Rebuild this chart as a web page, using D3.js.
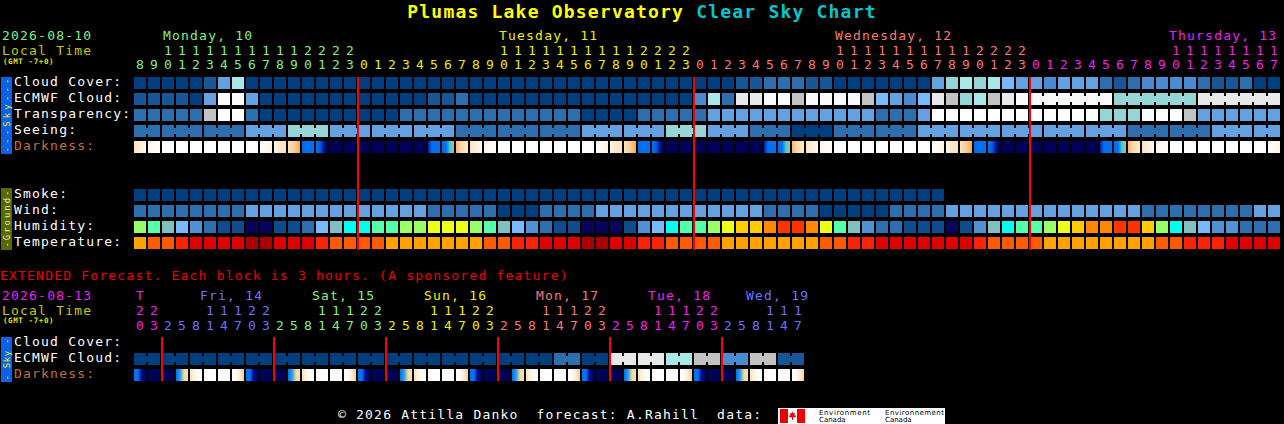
<!DOCTYPE html>
<html>
<head>
<meta charset="utf-8">
<script src="https://cdn.jsdelivr.net/npm/d3@7/dist/d3.min.js"></script>
<style>
html,body{margin:0;padding:0;background:#000;overflow:hidden;}
svg{display:block;}
</style>
</head>
<body>
<svg id="csc" width="1284" height="424"></svg>
<script>
// ---------------- DATA ----------------
const titleMain = "Plumas Lake Observatory";
const titleSuffix = "Clear Sky Chart";
const mainDate = "2026-08-10";
const extDate = "2026-08-13";
const tzLabel = "Local Time";
const gmtLabel = "(GMT -7+0)";
const extendedNote = "EXTENDED Forecast. Each block is 3 hours. (A sponsored feature)";
const footerText = "\u00a9 2026 Attilla Danko  forecast: A.Rahill  data:";
const logoTexts = ["Environment", "Canada", "Environnement", "Canada"];

const skyRows = ["Cloud Cover:", "ECMWF Cloud:", "Transparency:", "Seeing:", "Darkness:"];
const groundRows = ["Smoke:", "Wind:", "Humidity:", "Temperature:"];
const extRows = ["Cloud Cover:", "ECMWF Cloud:", "Darkness:"];

const mainDayNames = ["Monday, 10", "Tuesday, 11", "Wednesday, 12", "Thursday, 13"];
const mainHours = [
  8,9,10,11,12,13,14,15,16,17,18,19,20,21,22,23,
  0,1,2,3,4,5,6,7,8,9,10,11,12,13,14,15,16,17,18,19,20,21,22,23,
  0,1,2,3,4,5,6,7,8,9,10,11,12,13,14,15,16,17,18,19,20,21,22,23,
  0,1,2,3,4,5,6,7,8,9,10,11,12,13,14,15,16,17
];
const extDayNames = ["T", "Fri, 14", "Sat, 15", "Sun, 16", "Mon, 17", "Tue, 18", "Wed, 19"];
const extHours = [
  20,23,
  2,5,8,11,14,17,20,23,
  2,5,8,11,14,17,20,23,
  2,5,8,11,14,17,20,23,
  2,5,8,11,14,17,20,23,
  2,5,8,11,14,17,20,23,
  2,5,8,11,14,17
];

// cloud cover in percent (per hour)
const cloudCover = [
  0,0,0,0,0,10,40,70,0,0,
  0,0,0,0,0,0,0,0,0,0,
  0,0,0,0,0,0,0,0,0,0,
  0,0,0,0,0,0,0,0,0,0,
  0,0,0,10,10,20,20,20,10,10,
  0,0,0,0,0,0,0,40,60,70,
  60,70,50,40,40,30,40,40,40,20,
  10,20,30,30,30,30,20,10,10,20,
  0,0
];
const ecmwfCloud = [
  10,10,10,10,0,40,100,100,40,0,
  0,0,0,0,0,0,0,0,0,0,
  0,10,10,20,0,0,0,0,0,0,
  0,0,0,0,0,0,0,0,0,0,
  30,70,20,90,90,100,100,80,100,100,
  100,100,80,50,40,30,50,90,80,60,
  70,80,90,100,100,100,100,100,100,100,
  60,60,60,60,60,60,90,90,90,90,
  90,90
];
// transparency class: 0 transparent .. 5 too cloudy
const transparency = [
  1,1,1,1,1,4,5,5,1,0,
  0,0,0,0,0,0,0,0,0,1,
  1,1,1,1,1,1,1,1,1,1,
  1,1,0,0,0,0,1,1,1,1,
  1,2,2,2,2,2,2,2,2,2,
  2,2,2,1,1,1,2,5,5,5,
  5,5,5,5,5,5,5,5,5,3,
  3,3,5,5,5,4,2,2,2,2,
  2,2
];
// seeing class: 0 excellent .. 3 poor
const seeing = [
  1,1,1,1,1,1,1,1,2,2,
  2,3,3,3,2,2,2,2,2,2,
  2,2,2,1,1,1,1,1,1,1,
  1,1,2,2,2,2,2,2,3,3,
  3,2,2,2,1,1,1,0,0,0,
  1,1,1,1,1,1,2,2,2,2,
  2,2,2,2,2,2,2,2,2,2,
  2,1,1,1,1,1,1,2,2,2,
  2,2
];
// darkness: sky brightness samples within each hour (0 = daylight .. 10 = full dark)
const mainDarkness = [
  [2,1.5,1,0.5],[1,0.5,0.2,0],[0,0,0,0],[0,0,0,0],[0,0,0,0],[0,0,0,0],[0,0,0,0],[0,0,0,0],[0,0,0,0],[0,0.3,0.6,1],
  [1,1.5,1.8,2],[2,2.5,3,3.8],[6.3,6,6,6],[6,6.5,8.5,10],[10,10,10,10],[10,10,10,10],[10,10,10,10],[10,10,10,10],[10,10,10,10],[10,10,10,10],
  [10,10,10,10],[8,6,6,6],[6,6,5,3.8],[3.5,2.5,2,1.5],[2,1.5,1,0.5],[1,0.5,0.2,0],[0,0,0,0],[0,0,0,0],[0,0,0,0],[0,0,0,0],
  [0,0,0,0],[0,0,0,0],[0,0,0,0],[0,0.3,0.6,1],[1,1.5,1.8,2],[2,2.5,3,3.8],[6.3,6,6,6],[6,6.5,8.5,10],[10,10,10,10],[10,10,10,10],
  [10,10,10,10],[10,10,10,10],[10,10,10,10],[10,10,10,10],[10,10,10,10],[8,6,6,6],[6,6,5,3.8],[3.5,2.5,2,1.5],[2,1.5,1,0.5],[1,0.5,0.2,0],
  [0,0,0,0],[0,0,0,0],[0,0,0,0],[0,0,0,0],[0,0,0,0],[0,0,0,0],[0,0,0,0],[0,0.3,0.6,1],[1,1.5,1.8,2],[2,2.5,3,3.8],
  [6.3,6,6,6],[6,6.5,8.5,10],[10,10,10,10],[10,10,10,10],[10,10,10,10],[10,10,10,10],[10,10,10,10],[10,10,10,10],[10,10,10,10],[8,6,6,6],
  [6,6,5,3.8],[3.5,2.5,2,1.5],[2,1.5,1,0.5],[1,0.5,0.2,0],[0,0,0,0],[0,0,0,0],[0,0,0,0],[0,0,0,0],[0,0,0,0],[0,0,0,0],
  [0,0,0,0],[0,0.3,0.6,1]
];
const smoke = [
  0,0,0,0,0,0,0,0,0,0,
  0,0,0,0,0,0,0,0,0,0,
  0,0,0,0,0,0,0,0,0,0,
  0,0,0,0,0,0,0,0,0,0,
  0,0,0,0,0,0,0,0,0,0,
  0,0,0,0,0,0,0,0,null,null,
  null,null,null,null,null,null,null,null,null,null,
  null,null,null,null,null,null,null,null,null,null,
  null,null
];
// wind class: 0 calm .. 2 breezy
const wind = [
  1,1,1,1,1,1,1,1,2,2,
  2,2,2,2,2,2,2,2,2,2,
  2,1,1,1,1,1,0,0,0,1,
  1,1,1,2,2,2,2,2,2,2,
  2,2,2,2,2,1,1,1,1,0,
  0,0,0,0,1,1,1,1,2,2,
  2,2,2,2,2,2,2,2,2,2,
  2,2,1,1,1,1,1,1,1,1,
  2,2
];
// relative humidity, percent (lower bound of class)
const humidity = [
  60,55,45,40,35,30,25,25,20,20,
  25,25,30,40,45,50,50,55,55,60,
  60,65,65,65,60,55,45,40,35,30,
  25,25,20,20,20,25,35,40,50,55,
  55,60,65,70,70,75,80,80,75,65,
  55,45,35,30,30,25,25,25,20,25,
  35,45,50,55,55,60,65,70,75,75,
  80,80,70,60,50,45,40,35,35,30,
  30,30
];
// temperature, deg F (lower bound of class)
const temperature = [
  80,85,85,90,95,95,95,95,100,100,
  95,95,95,90,85,85,85,85,80,80,
  80,80,80,80,80,85,85,90,90,95,
  95,95,100,100,95,95,90,90,85,85,
  85,85,80,80,80,80,80,80,80,85,
  85,90,90,95,95,95,95,95,95,95,
  90,85,85,85,85,80,80,80,80,80,
  80,80,80,85,85,90,90,90,95,95,
  95,95
];
// extended forecast (3-hour blocks)
const extEcmwf = [
  0,0,0,0,0,0,0,0,0,0,
  0,0,0,0,0,0,0,0,0,0,
  0,0,0,0,0,0,0,0,0,0,
  20,20,0,0,90,90,90,90,70,70,
  80,80,30,30,80,80,10,10
];
const extDarkness = [
  [6,6,9,9.5],[10,10,10,10],
  [10,10,10,10],[6,5.5,2.5,2],[2,1,0.5,0],[0,0,0,0],[0,0,0,0],[0,0.5,1.5,2.8],[6,6,9,9.5],[10,10,10,10],
  [10,10,10,10],[6,5.5,2.5,2],[2,1,0.5,0],[0,0,0,0],[0,0,0,0],[0,0.5,1.5,2.8],[6,6,9,9.5],[10,10,10,10],
  [10,10,10,10],[6,5.5,2.5,2],[2,1,0.5,0],[0,0,0,0],[0,0,0,0],[0,0.5,1.5,2.8],[6,6,9,9.5],[10,10,10,10],
  [10,10,10,10],[6,5.5,2.5,2],[2,1,0.5,0],[0,0,0,0],[0,0,0,0],[0,0.5,1.5,2.8],[6,6,9,9.5],[10,10,10,10],
  [10,10,10,10],[6,5.5,2.5,2],[2,1,0.5,0],[0,0,0,0],[0,0,0,0],[0,0.5,1.5,2.8],[6,6,9,9.5],[10,10,10,10],
  [10,10,10,10],[6,5.5,2.5,2],[2,1,0.5,0],[0,0,0,0],[0,0,0,0],[0,0.5,1.5,2.8]
];

// ---------------- STYLES / SCALES ----------------
const MONO = '"DejaVu Sans Mono", "Liberation Mono", monospace';
const mainDayColors = ["#80f080", "#eeee00", "#f87878", "#f020f0"];
const extDayColors = ["#f020f0", "#7070ff", "#80f080", "#eeee00", "#f87878", "#f020f0", "#7070ff"];

const cloudColor = d3.scaleOrdinal()
  .domain([0,10,20,30,40,50,60,70,80,90,100])
  .range(["#003f7f","#175797","#2c6eae","#4a8ad0","#63a1e1","#77b9fa","#95d5d5","#a8e8e8","#c2c2c2","#e8e8e8","#fafafa"]);
const transColor = d3.scaleOrdinal().domain([0,1,2,3,4,5])
  .range(["#003f7f","#2c6eae","#63a1e1","#95d5d5","#c2c2c2","#ffffff"]);
const seeingColor = d3.scaleOrdinal().domain([0,1,2,3])
  .range(["#003f7f","#2c6eae","#63a1e1","#95d5d5"]);
const windColor = d3.scaleOrdinal().domain([0,1,2])
  .range(["#003f7f","#2c6eae","#63a1e1"]);
const smokeColor = d3.scaleOrdinal().domain([0]).range(["#003f7f"]);
const humColor = d3.scaleOrdinal()
  .domain([20,25,30,35,40,45,50,55,60,65,70,75,80])
  .range(["#08035d","#0d4c8d","#2c6eae","#4f91d2","#77b9fa","#80c0c0","#00ffee","#55ffaa","#99ff66","#eeff18","#ffcc00","#ff8800","#ff3300"]);
const tempColor = d3.scaleOrdinal().domain([80,85,90,95,100])
  .range(["#ffa200","#ff5a00","#ff2200","#e00000","#aa0000"]);
const darkColor = d3.scaleLinear()
  .domain([0,1,2,3,4,5,6,7,8,9,10])
  .range(["#ffffff","#fff2e2","#fde2bc","#f9c585","#f2a23a","#38d0e0","#0072f0","#0050d8","#0020a8","#000080","#000058"]);

// ---------------- DRAW ----------------
const svg = d3.select("#csc");
svg.append("rect").attr("width", 1284).attr("height", 424).attr("fill", "#000");
const defs = svg.append("defs");

function label(x, y, s, fill, o = {}) {
  const t = svg.append("text").attr("x", x).attr("y", y).text(s)
    .attr("fill", fill).attr("font-family", o.family || MONO)
    .attr("font-size", o.size || 13)
    .style("letter-spacing", (o.ls != null ? o.ls : 1.2) + "px");
  if (o.weight) t.attr("font-weight", o.weight);
  if (o.anchor) t.attr("text-anchor", o.anchor);
  return t;
}

function dayIndex(hours) {
  let d = 0;
  return hours.map((h, i) => { if (i > 0 && h < hours[i - 1]) d++; return d; });
}

function cellRow(xs, y, h, values, colorFn, groupFn) {
  const g = svg.append("g");
  const cells = values.map((v, i) => ({ v, i })).filter(d => d.v != null);
  g.selectAll("rect.c").data(cells).join("rect").attr("class", "c")
    .attr("x", d => xs(d.i)).attr("y", y)
    .attr("width", xs.bandwidth()).attr("height", h)
    .attr("fill", d => colorFn(d.v));
  if (groupFn) {
    const br = cells.filter(d => d.i + 1 < values.length && values[d.i + 1] != null && groupFn(d.i) === groupFn(d.i + 1));
    g.selectAll("rect.b").data(br).join("rect").attr("class", "b")
      .attr("x", d => xs(d.i) + xs.bandwidth()).attr("y", y + 3)
      .attr("width", xs.step() - xs.bandwidth()).attr("height", h - 6)
      .attr("fill", d => colorFn(d.v));
  }
}

function darkRow(xs, y, h, data, prefix) {
  data.forEach((samples, i) => {
    const gr = defs.append("linearGradient").attr("id", prefix + i)
      .attr("x1", 0).attr("x2", 1).attr("y1", 0).attr("y2", 0);
    samples.forEach((v, k) => gr.append("stop")
      .attr("offset", k / (samples.length - 1)).attr("stop-color", darkColor(v)));
  });
  svg.append("g").selectAll("rect").data(data).join("rect")
    .attr("x", (d, i) => xs(i)).attr("y", y)
    .attr("width", xs.bandwidth()).attr("height", h)
    .attr("fill", (d, i) => `url(#${prefix}${i})`);
}

function sideBar(y0, y1, fill, s, tfill, len) {
  svg.append("rect").attr("x", 1).attr("y", y0).attr("width", 11).attr("height", y1 - y0).attr("fill", fill);
  svg.append("text")
    .attr("transform", `translate(10,${(y0 + y1) / 2}) rotate(-90)`)
    .attr("text-anchor", "middle").attr("font-family", MONO).attr("font-size", 9)
    .attr("fill", tfill).attr("textLength", len).attr("lengthAdjust", "spacing")
    .text(s);
}

function timeHeader(xs, hours, dayNames, dayColors, yDay, yTens, yUnits, labelX, rightEdge) {
  const di = dayIndex(hours);
  const g = svg.append("g").attr("font-family", MONO).attr("font-size", 13).attr("text-anchor", "middle");
  g.selectAll("text.u").data(hours).join("text").attr("class", "u")
    .attr("x", (d, i) => xs(i) + xs.bandwidth() / 2).attr("y", yUnits)
    .attr("fill", (d, i) => dayColors[di[i]]).text(d => d % 10);
  const tens = hours.map((h, i) => ({ h, i })).filter(d => d.h >= 10);
  g.selectAll("text.t").data(tens).join("text").attr("class", "t")
    .attr("x", d => xs(d.i) + xs.bandwidth() / 2).attr("y", yTens)
    .attr("fill", d => dayColors[di[d.i]]).text(d => Math.floor(d.h / 10));
  dayNames.forEach((name, k) => {
    const cols = hours.map((h, i) => i).filter(i => di[i] === k);
    const first = cols.find(i => hours[i] >= 10);
    const col = first != null ? first : cols[0];
    let x = labelX(xs(col));
    const w = name.length * 9;
    if (x + w > rightEdge) x = rightEdge - w;
    x = Math.max(x, xs(0) + 2);
    label(x, yDay, name, dayColors[k]);
  });
}

// Title
const tt = svg.append("text").attr("x", 642).attr("y", 18).attr("text-anchor", "middle")
  .attr("font-family", MONO).attr("font-size", 18).attr("font-weight", "bold")
  .style("letter-spacing", "1.2px");
tt.append("tspan").attr("fill", "#ffff00").text(titleMain + " ");
tt.append("tspan").attr("fill", "#00c8d0").text(titleSuffix);

// ---------- main chart ----------
const nMain = mainHours.length;
const xMain = d3.scaleBand().domain(d3.range(nMain))
  .range([134, 134 + nMain * 14 - 2]).paddingInner(2 / 14).paddingOuter(0);
const ySky = d3.scaleBand().domain(skyRows).range([77, 77 + skyRows.length * 16 - 4]).paddingInner(4 / 16);
const yGround = d3.scaleBand().domain(groundRows).range([189, 189 + groundRows.length * 16 - 4]).paddingInner(4 / 16);
const bh = ySky.bandwidth();

label(2, 40, mainDate, mainDayColors[0]);
label(2, 55, tzLabel, "#c8c800");
label(3, 64, gmtLabel, "#e0e000", { size: 7.5, ls: 0.6, weight: "bold" });
timeHeader(xMain, mainHours, mainDayNames, mainDayColors, 40, 55, 69, x => x + 1, 1277);

skyRows.forEach(r => label(14, ySky(r) + 9, r, r === "Darkness:" ? "#c0703c" : "#ffffff"));
groundRows.forEach(r => label(14, yGround(r) + 9, r, "#ffffff"));

sideBar(77, 154, "#0b62e8", "---Sky---", "#f0f000", 74);
sideBar(188, 250, "#556b00", "-Ground-", "#e8e8c8", 57);

cellRow(xMain, ySky("Cloud Cover:"), bh, cloudCover, cloudColor);
cellRow(xMain, ySky("ECMWF Cloud:"), bh, ecmwfCloud, cloudColor, i => i < 64 ? "h" + i : "g" + Math.floor((i - 64) / 6));
cellRow(xMain, ySky("Transparency:"), bh, transparency, transColor);
cellRow(xMain, ySky("Seeing:"), bh, seeing, seeingColor, i => Math.floor((mainHours[0] - 1 + i) / 3));
darkRow(xMain, ySky("Darkness:"), bh, mainDarkness, "dkm");

cellRow(xMain, yGround("Smoke:"), bh, smoke, smokeColor);
cellRow(xMain, yGround("Wind:"), bh, wind, windColor);
cellRow(xMain, yGround("Humidity:"), bh, humidity, humColor);
cellRow(xMain, yGround("Temperature:"), bh, temperature, tempColor);

// midnight lines
const mainMidnights = mainHours.map((h, i) => i).filter(i => i > 0 && mainHours[i] < mainHours[i - 1]);
svg.append("g").selectAll("rect").data(mainMidnights).join("rect")
  .attr("x", i => xMain(i) - 1).attr("y", 77).attr("width", 2).attr("height", 173).attr("fill", "#ff0000");

// ---------- extended ----------
label(0, 280, extendedNote, "#f00000");
const nExt = extHours.length;
const xExt = d3.scaleBand().domain(d3.range(nExt))
  .range([134, 134 + nExt * 14 - 2]).paddingInner(2 / 14).paddingOuter(0);
const yExt = d3.scaleBand().domain(extRows).range([337, 337 + extRows.length * 16 - 4]).paddingInner(4 / 16);

label(2, 300, extDate, extDayColors[0]);
label(2, 315, tzLabel, "#c8c800");
label(3, 323, gmtLabel, "#e0e000", { size: 7.5, ls: 0.6, weight: "bold" });
timeHeader(xExt, extHours, extDayNames, extDayColors, 300, 315, 330, x => x - 4, 809);

extRows.forEach(r => label(14, yExt(r) + 9, r, r === "Darkness:" ? "#c0703c" : "#ffffff"));
sideBar(337, 382, "#0b62e8", "- Sky -", "#f0f000", 42);

cellRow(xExt, yExt("ECMWF Cloud:"), bh, extEcmwf, cloudColor, i => Math.floor(i / 2));
darkRow(xExt, yExt("Darkness:"), bh, extDarkness, "dke");

const extMidnights = extHours.map((h, i) => i).filter(i => i > 0 && extHours[i] < extHours[i - 1]);
svg.append("g").selectAll("rect").data(extMidnights).join("rect")
  .attr("x", i => xExt(i) - 1).attr("y", 337).attr("width", 2).attr("height", 44).attr("fill", "#ff0000");

// ---------- footer ----------
label(338, 419, footerText, "#ffffff").attr("xml:space", "preserve").style("white-space", "pre");
svg.append("rect").attr("x", 778).attr("y", 408).attr("width", 167).attr("height", 16).attr("fill", "#ffffff");
svg.append("rect").attr("x", 780).attr("y", 409).attr("width", 8).attr("height", 14).attr("fill", "#ee0000");
svg.append("rect").attr("x", 797).attr("y", 409).attr("width", 8).attr("height", 14).attr("fill", "#ee0000");
svg.append("path")
  .attr("transform", "translate(792.5,416)")
  .attr("d", "M0,-4.5 L1,-2.5 L2.5,-3 L2,-0.5 L3.8,-0.5 L2.8,1.2 L0.5,1.5 L0.5,4 L-0.5,4 L-0.5,1.5 L-2.8,1.2 L-3.8,-0.5 L-2,-0.5 L-2.5,-3 L-1,-2.5 Z")
  .attr("fill", "#ee0000");
const sans = '"DejaVu Sans", sans-serif';
label(819, 415, logoTexts[0], "#000", { size: 7, ls: 0, family: sans }).attr("textLength", 51);
label(819, 422, logoTexts[1], "#000", { size: 7, ls: 0, family: sans });
label(885, 415, logoTexts[2], "#000", { size: 7, ls: 0, family: sans }).attr("textLength", 59);
label(885, 422, logoTexts[3], "#000", { size: 7, ls: 0, family: sans });
</script>
</body>
</html>
